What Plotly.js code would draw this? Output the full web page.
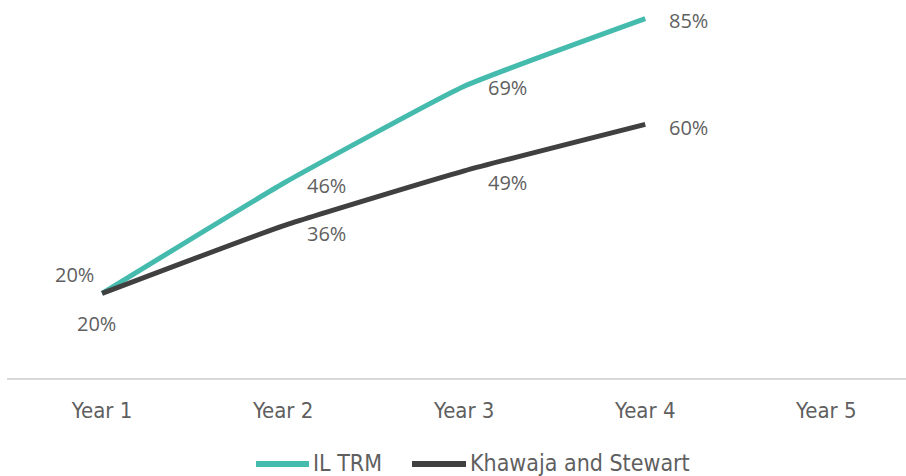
<!DOCTYPE html>
<html>
<head>
<meta charset="utf-8">
<script src="https://cdn.plot.ly/plotly-3.0.1.min.js"></script>
<style>
  html, body { margin: 0; padding: 0; background: #fff; }
  #chart { width: 906px; height: 476px; }
</style>
</head>
<body>
<div id="chart"></div>
<script>
// Cumulative share by year for the two models
const years = ['Year 1', 'Year 2', 'Year 3', 'Year 4', 'Year 5'];
const seriesNames = ['IL TRM', 'Khawaja and Stewart'];
const ilTrm = [20, 46, 69, 85, null];
const khawajaStewart = [20, 36, 49, 60, null];

const tealColor = '#45bbae';
const darkColor = '#404040';
const labelColor = '#5f5f5f';
const labelFont = { family: 'Open Sans, DejaVu Sans, sans-serif', size: 20, color: labelColor };
const tickFont = { family: 'DejaVu Sans Condensed, Liberation Sans Narrow, sans-serif', size: 22, color: labelColor };
const legendFont = { family: 'DejaVu Sans Condensed, Liberation Sans Narrow, sans-serif', size: 23, color: labelColor };

const lineStyle = (color) => ({ color: color, width: 5, shape: 'spline', smoothing: 0.4 });

const traces = [
  { name: seriesNames[0], x: years, y: ilTrm, type: 'scatter', mode: 'lines', line: lineStyle(tealColor), hoverinfo: 'skip' },
  { name: seriesNames[1], x: years, y: khawajaStewart, type: 'scatter', mode: 'lines', line: lineStyle(darkColor), hoverinfo: 'skip' }
];

// Value labels: [xshift, yshift, xanchor] per point
const ilOffsets = [[-28, 19, 'center'], [22, -2, 'left'], [22, -1, 'left'], [22, -2, 'left']];
const ksOffsets = [[-6, -30, 'center'], [22, -8, 'left'], [22, -12, 'left'], [22, -3, 'left']];

const annotations = [];
function addLabels(values, offsets) {
  values.forEach((v, i) => {
    if (v === null) return;
    annotations.push({
      x: years[i], y: v, xref: 'x', yref: 'y',
      text: v + '%', showarrow: false,
      xanchor: offsets[i][2], yanchor: 'middle',
      xshift: offsets[i][0], yshift: offsets[i][1],
      font: labelFont
    });
  });
}
addLabels(ilTrm, ilOffsets);
addLabels(khawajaStewart, ksOffsets);

// Legend drawn below the axis: swatch line followed by its series name
const plotLeft = 7, plotWidth = 899, plotHeight = 378;
const px = (p) => (p - plotLeft) / plotWidth;
const py = (p) => (plotHeight - p) / plotHeight;
const legendItems = [
  { name: seriesNames[0], color: tealColor, x0: 256, x1: 309 },
  { name: seriesNames[1], color: darkColor, x0: 412, x1: 466 }
];
const legendY = 464;
const shapes = [];
legendItems.forEach((item) => {
  shapes.push({
    type: 'line', xref: 'paper', yref: 'paper',
    x0: px(item.x0), x1: px(item.x1), y0: py(legendY), y1: py(legendY),
    line: { color: item.color, width: 6 }
  });
  annotations.push({
    xref: 'paper', yref: 'paper', x: px(item.x1 + 2), y: py(legendY - 1),
    text: item.name, showarrow: false, xanchor: 'left', yanchor: 'middle',
    font: legendFont
  });
});

const layout = {
  width: 906, height: 476,
  margin: { l: 7, r: 0, t: 0, b: 98, autoexpand: false },
  paper_bgcolor: '#ffffff', plot_bgcolor: '#ffffff',
  showlegend: false,
  xaxis: {
    type: 'category', range: [-0.525, 4.44],
    showgrid: false, zeroline: false,
    showline: true, linecolor: '#d9d9d9', linewidth: 1.5,
    ticks: '', ticklabelstandoff: 12, tickfont: tickFont
  },
  yaxis: { range: [0, 89.4], visible: false, showgrid: false, zeroline: false },
  shapes: shapes,
  annotations: annotations
};

Plotly.newPlot('chart', traces, layout, { displayModeBar: false, staticPlot: true });
</script>
</body>
</html>
